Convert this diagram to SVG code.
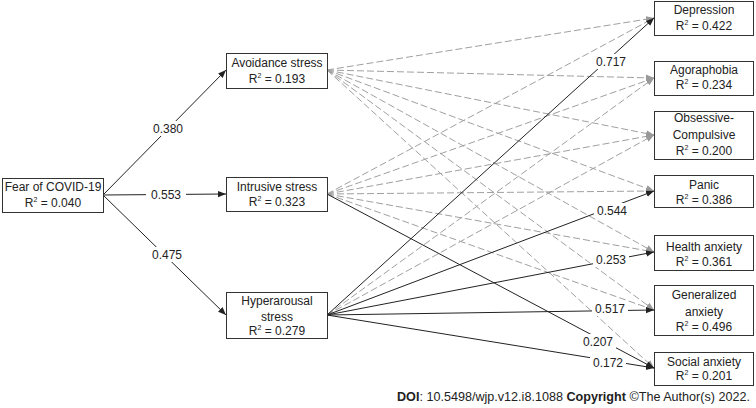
<svg xmlns="http://www.w3.org/2000/svg" width="756" height="408" viewBox="0 0 756 408">
<defs>
<marker id="ab" viewBox="0 0 10 10" refX="10" refY="5" markerWidth="8" markerHeight="8" markerUnits="userSpaceOnUse" orient="auto"><path d="M0,1 L10,5 L0,9 z" fill="#222"/></marker>
<marker id="ag" viewBox="0 0 10 10" refX="10" refY="5" markerWidth="8" markerHeight="8" markerUnits="userSpaceOnUse" orient="auto"><path d="M0,1 L10,5 L0,9 z" fill="#999"/></marker>
<style>
text{font-family:"Liberation Sans",Arial,sans-serif;font-size:12px;fill:#222;text-anchor:middle}
.box{fill:#fff;stroke:#333;stroke-width:1}
.s{stroke:#222;stroke-width:1;fill:none;marker-end:url(#ab)}
.d{stroke:#a0a0a0;stroke-width:1;fill:none;stroke-dasharray:7,3;marker-end:url(#ag)}
.lb{fill:#fff}
.sup{font-size:7px}
.foot{font-size:12.6px;text-anchor:end}
</style>
</defs>
<g id="connectors">
<line class="d" x1="327" y1="70" x2="654" y2="18"/>
<line class="d" x1="327" y1="70" x2="654" y2="78"/>
<line class="d" x1="327" y1="70" x2="654" y2="135"/>
<line class="d" x1="327" y1="70" x2="654" y2="191"/>
<line class="d" x1="327" y1="70" x2="654" y2="252"/>
<line class="d" x1="327" y1="70" x2="654" y2="310"/>
<line class="d" x1="327" y1="70" x2="654" y2="368"/>
<line class="d" x1="327" y1="194" x2="654" y2="18"/>
<line class="d" x1="327" y1="194" x2="654" y2="78"/>
<line class="d" x1="327" y1="194" x2="654" y2="135"/>
<line class="d" x1="327" y1="194" x2="654" y2="191"/>
<line class="d" x1="327" y1="194" x2="654" y2="252"/>
<line class="d" x1="327" y1="194" x2="654" y2="310"/>
<line class="d" x1="327" y1="315" x2="654" y2="78"/>
<line class="d" x1="327" y1="315" x2="654" y2="135"/>
<line class="s" x1="103" y1="195" x2="226" y2="70"/>
<line class="s" x1="103" y1="195" x2="226" y2="194"/>
<line class="s" x1="103" y1="195" x2="226" y2="315"/>
<line class="s" x1="327" y1="315" x2="654" y2="18"/>
<line class="s" x1="327" y1="315" x2="654" y2="191"/>
<line class="s" x1="327" y1="315" x2="654" y2="252"/>
<line class="s" x1="327" y1="315" x2="654" y2="310"/>
<line class="s" x1="327" y1="315" x2="654" y2="368"/>
<line class="s" x1="327" y1="194" x2="654" y2="368"/>
<rect class="lb" x="148" y="121" width="40" height="15"/><text x="168" y="133">0.380</text>
<rect class="lb" x="146" y="187" width="40" height="15"/><text x="166" y="199">0.553</text>
<rect class="lb" x="147" y="247" width="40" height="15"/><text x="167" y="259">0.475</text>
<rect class="lb" x="593" y="54" width="36" height="15"/><text x="611" y="66">0.717</text>
<rect class="lb" x="594" y="203" width="36" height="15"/><text x="612" y="215">0.544</text>
<rect class="lb" x="593" y="252" width="36" height="15"/><text x="611" y="264">0.253</text>
<rect class="lb" x="592" y="301" width="36" height="15"/><text x="610" y="313">0.517</text>
<rect class="lb" x="580" y="334" width="36" height="15"/><text x="598" y="346">0.207</text>
<rect class="lb" x="590" y="355" width="36" height="15"/><text x="608" y="367">0.172</text>
</g>
<g id="fear">
<rect class="box" x="2.5" y="178.5" width="101" height="34"/>
<text x="53" y="191">Fear of COVID-19</text>
<text x="53" y="207">R<tspan class="sup" dy="-5">2</tspan><tspan dy="5"> = 0.040</tspan></text>
</g>
<g id="avoidance">
<rect class="box" x="226.5" y="53.5" width="101" height="35"/>
<text x="277" y="67">Avoidance stress</text>
<text x="277" y="83">R<tspan class="sup" dy="-5">2</tspan><tspan dy="5"> = 0.193</tspan></text>
</g>
<g id="intrusive">
<rect class="box" x="226.5" y="177.5" width="101" height="34"/>
<text x="277" y="191">Intrusive stress</text>
<text x="277" y="206">R<tspan class="sup" dy="-5">2</tspan><tspan dy="5"> = 0.323</tspan></text>
</g>
<g id="hyperarousal">
<rect class="box" x="226.5" y="292.5" width="101" height="46"/>
<text x="277" y="305">Hyperarousal</text>
<text x="277" y="321">stress</text>
<text x="277" y="335">R<tspan class="sup" dy="-5">2</tspan><tspan dy="5"> = 0.279</tspan></text>
</g>
<g id="depression">
<rect class="box" x="654.5" y="1.5" width="99" height="34"/>
<text x="704" y="14">Depression</text>
<text x="704" y="30">R<tspan class="sup" dy="-5">2</tspan><tspan dy="5"> = 0.422</tspan></text>
</g>
<g id="agoraphobia">
<rect class="box" x="654.5" y="61.5" width="99" height="34"/>
<text x="704" y="74">Agoraphobia</text>
<text x="704" y="89">R<tspan class="sup" dy="-5">2</tspan><tspan dy="5"> = 0.234</tspan></text>
</g>
<g id="ocd">
<rect class="box" x="654.5" y="111.5" width="99" height="48"/>
<text x="704" y="122">Obsessive-</text>
<text x="704" y="139">Compulsive</text>
<text x="704" y="155">R<tspan class="sup" dy="-5">2</tspan><tspan dy="5"> = 0.200</tspan></text>
</g>
<g id="panic">
<rect class="box" x="654.5" y="175.5" width="99" height="32"/>
<text x="704" y="189">Panic</text>
<text x="704" y="204">R<tspan class="sup" dy="-5">2</tspan><tspan dy="5"> = 0.386</tspan></text>
</g>
<g id="health">
<rect class="box" x="654.5" y="235.5" width="99" height="35"/>
<text x="704" y="251">Health anxiety</text>
<text x="704" y="266">R<tspan class="sup" dy="-5">2</tspan><tspan dy="5"> = 0.361</tspan></text>
</g>
<g id="generalized">
<rect class="box" x="654.5" y="285.5" width="99" height="50"/>
<text x="704" y="299">Generalized</text>
<text x="704" y="316">anxiety</text>
<text x="704" y="331">R<tspan class="sup" dy="-5">2</tspan><tspan dy="5"> = 0.496</tspan></text>
</g>
<g id="social">
<rect class="box" x="654.5" y="352.5" width="99" height="33"/>
<text x="704" y="366">Social anxiety</text>
<text x="704" y="380">R<tspan class="sup" dy="-5">2</tspan><tspan dy="5"> = 0.201</tspan></text>
</g>
<text class="foot" x="750" y="401"><tspan font-weight="bold">DOI</tspan>: 10.5498/wjp.v12.i8.1088 <tspan font-weight="bold">Copyright</tspan> ©The Author(s) 2022.</text>
</svg>
